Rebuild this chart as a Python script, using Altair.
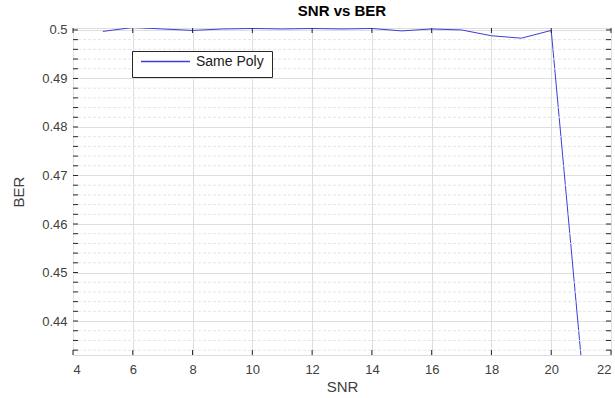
import altair as alt
import pandas as pd

snr = [5, 6, 7, 8, 9, 10, 11, 12, 13, 14, 15, 16, 17, 18, 19, 20, 21]
ber = [0.4997, 0.5005, 0.5002, 0.4999, 0.5002, 0.5003, 0.5002, 0.5003, 0.5002, 0.5003,
       0.4998, 0.5002, 0.5000, 0.4988, 0.4983, 0.4999, 0.4325]
series = ["Same Poly"] * len(snr)

x_ticks = [4, 6, 8, 10, 12, 14, 16, 18, 20, 22]
y_major = [0.44, 0.45, 0.46, 0.47, 0.48, 0.49, 0.5]
y_all = [round(0.434 + 0.002 * i, 3) for i in range(34)]
y_minor = [v for v in y_all if abs(v * 100 - round(v * 100)) > 1e-6]

W, H = 538, 327
XDOM = [4, 22]
YDOM = [0.433, 0.5004]
FONT = "Liberation Sans"
FRAME = "#262626"
GRID = "#dedede"
TXT = "#404040"
LINE = "#3d3dd8"

df = pd.DataFrame({"SNR": snr, "BER": ber, "series": series})
dfx = pd.DataFrame({"SNR": x_ticks})
dfy = pd.DataFrame({"BER": y_all})
dfm = pd.DataFrame({"BER": y_minor})

xs = alt.Scale(domain=XDOM, nice=False, zero=False)
ys = alt.Scale(domain=YDOM, nice=False, zero=False)

line = alt.Chart(df).mark_line(clip=True, strokeWidth=1).encode(
    x=alt.X("SNR:Q", scale=xs, title="SNR",
            axis=alt.Axis(values=x_ticks, grid=True, gridColor=GRID, tickSize=0,
                          domain=False, labelFont=FONT, labelFontSize=13,
                          labelColor=TXT, labelPadding=8,
                          titleFont=FONT, titleFontSize=15, titleFontWeight="normal",
                          titleColor=TXT, titlePadding=3)),
    y=alt.Y("BER:Q", scale=ys, title="BER",
            axis=alt.Axis(values=y_major, grid=True, gridColor=GRID, tickSize=0,
                          domain=False, format="~g", labelFont=FONT, labelFontSize=13,
                          labelColor=TXT, labelPadding=6,
                          titleFont=FONT, titleFontSize=15, titleFontWeight="normal",
                          titleColor=TXT, titlePadding=15)),
    color=alt.Color("series:N", scale=alt.Scale(range=[LINE]),
                    legend=alt.Legend(title=None, orient="none", legendX=59, legendY=23,
                                      symbolType="stroke", symbolSize=2400,
                                      symbolStrokeWidth=1.3,
                                      symbolStrokeColor=LINE,
                                      strokeColor=FRAME,
                                      fillColor="white", padding=8, cornerRadius=0,
                                      clipHeight=5,
                                      labelFont=FONT, labelFontSize=14, labelColor="#202020",
                                      labelOffset=5, rowPadding=0)),
)

minor_grid = alt.Chart(dfm).mark_rule(color="#e6e6e6", strokeDash=[3, 2], strokeWidth=1).encode(
    y=alt.Y("BER:Q", scale=ys, title="BER")
)

xt_bot = alt.Chart(dfx).mark_rule(color=FRAME).encode(
    x=alt.X("SNR:Q", scale=xs, title="SNR"), y=alt.value(H), y2=alt.value(H - 5))
xt_top = alt.Chart(dfx).mark_rule(color=FRAME).encode(
    x=alt.X("SNR:Q", scale=xs, title="SNR"), y=alt.value(0), y2=alt.value(5))
yt_left = alt.Chart(dfy).mark_rule(color=FRAME).encode(
    y=alt.Y("BER:Q", scale=ys, title="BER"), x=alt.value(0), x2=alt.value(5))
yt_right = alt.Chart(dfy).mark_rule(color=FRAME).encode(
    y=alt.Y("BER:Q", scale=ys, title="BER"), x=alt.value(W), x2=alt.value(W - 5))

chart = alt.layer(line, minor_grid, xt_bot, xt_top, yt_left, yt_right).properties(
    width=W, height=H,
    title=alt.TitleParams("SNR vs BER", font=FONT, fontSize=15, fontWeight="bold",
                          color="#000000", anchor="middle", offset=5),
    autosize=alt.AutoSizeParams(type="none"),
    padding={"left": 73, "top": 28, "right": 4, "bottom": 43},
).configure_view(stroke=FRAME, strokeWidth=1).configure(background="white")

chart.save("out.html", embed_options={"renderer": "svg", "actions": False})
